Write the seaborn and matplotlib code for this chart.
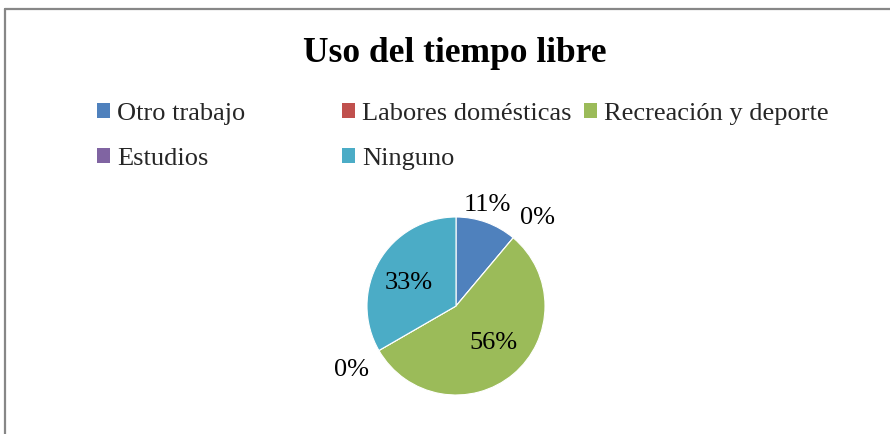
import numpy as np
import matplotlib.pyplot as plt
import seaborn as sns
from matplotlib.lines import Line2D

categories = ["Otro trabajo", "Labores domésticas", "Recreación y deporte", "Estudios", "Ninguno"]
counts = [1, 0, 5, 0, 3]
colors = ["#4F81BD", "#C0504D", "#9BBB59", "#8064A2", "#4BACC6"]

sns.set_theme(style="white")
plt.rcParams["font.family"] = ["Liberation Serif", "DejaVu Serif"]

W, H = 890, 434
fig = plt.figure(figsize=(W / 100, H / 100), dpi=100)

# outer chart frame (only top and left edges visible)
fig.add_artist(Line2D([5 / W, 5 / W], [0, 1 - 9 / H], color="#878787", lw=1.6))
fig.add_artist(Line2D([5 / W, 1], [1 - 9 / H, 1 - 9 / H], color="#878787", lw=1.6))

fig.text(455 / W, 1 - 62 / H, "Uso del tiempo libre", ha="center", va="baseline",
         fontsize=25.5, fontweight="bold", color="black")

# pie
cx, cy, r = 456, 306, 89
ax = fig.add_axes([(cx - r) / W, (H - cy - r) / H, 2 * r / W, 2 * r / H])
wedges, texts, autotexts = ax.pie(
    counts, colors=colors, startangle=90, counterclock=False,
    autopct=lambda p: f"{p:.0f}%", radius=1,
    wedgeprops=dict(linewidth=0.8, edgecolor="white"),
    textprops=dict(fontsize=19, color="black"),
)
ax.set_xlim(-1, 1)
ax.set_ylim(-1, 1)
ax.set_aspect("equal")
ax.axis("off")

label_pos = [(0.35, 1.14), (0.92, 0.99), (0.42, -0.42), (-1.17, -0.72), (-0.53, 0.26)]
for t, (x, y) in zip(autotexts, label_pos):
    t.set_position((x, y))
    t.set_ha("center")
    t.set_va("center")

# legend, laid out in three columns like the original
col_x = [97, 342, 584]
col_items = [[0, 3], [1, 4], [2]]
for x, items in zip(col_x, col_items):
    leg = fig.legend(
        [wedges[i] for i in items], [categories[i] for i in items],
        loc="upper left", bbox_to_anchor=(x / W, 1 - 103 / H),
        frameon=False, fontsize=19, handlelength=0.48, handleheight=0.48,
        handletextpad=0.28, labelspacing=0.86, borderpad=0, borderaxespad=0,
    )
    for h in leg.legend_handles:
        h.set_edgecolor("none")

fig.savefig("out.png", dpi=100, facecolor="white")
